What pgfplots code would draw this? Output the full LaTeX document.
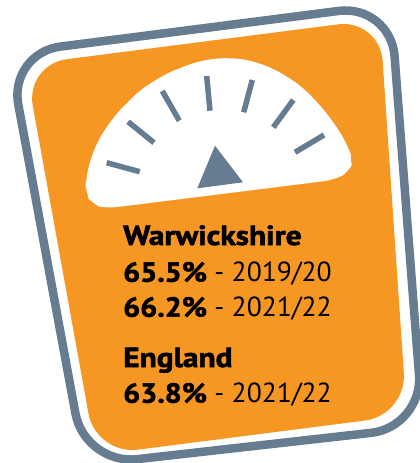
\documentclass[border=0pt]{standalone}
\usepackage{pgfplots}
\pgfplotsset{compat=1.18}
\usepackage{fontspec}
\setmainfont{PT Sans}
\newfontfamily\blk[FakeBold=2,FakeStretch=1.14]{PT Sans Bold}
\newfontfamily\blknum[FakeBold=2,FakeStretch=1.09]{PT Sans Bold}
\definecolor{slate}{HTML}{667C91}
\definecolor{scaleorange}{HTML}{F69723}
\newcommand{\lab}[3]{\node[anchor=base west,inner sep=0pt] at (axis cs:#1,#2) {\fontsize{27.6}{28}\selectfont #3};}
\begin{document}
\begin{tikzpicture}
\begin{axis}[
	width=420pt,height=463pt,scale only axis,
	hide axis,
	xmin=0,xmax=420,ymin=0,ymax=463,
	y dir=reverse
]
% outer border
\addplot[draw=slate,line width=8.5pt,rounded corners=52pt] coordinates {
(8.8,53.2) (390.6,4.3) (423,427) (85,465)
} --cycle;
% orange face
\addplot[draw=none,fill=scaleorange,rounded corners=42pt] coordinates {
(25.3,64.5) (379.8,19) (406.7,415.2) (96,455)
} --cycle;
% dial, starts mid way along the flat bottom edge
\addplot[draw=none,fill=white,rounded corners=10pt] coordinates {
(220,194.2) (106.7,208.3) (92,205) (85.5,192) (85.7,181.7) (90,160) (100,136.7)
(116.7,113.3) (140,90) (166.7,73.3) (196.7,61.7) (220,57.7) (246.7,59.3) (273.3,68.3)
(300,85) (320,105) (336.7,126.7) (348.3,146.7) (352.5,160) (350,172) (333.3,180)
} --cycle;
% ticks
\addplot[slate,line width=5.5pt] coordinates {(106.7,162.7) (139.7,171.7)};
\addplot[slate,line width=5.5pt] coordinates {(128,121.7) (154,142.7)};
\addplot[slate,line width=5.5pt] coordinates {(162.3,91) (179.3,120.7)};
\addplot[slate,line width=5.5pt] coordinates {(206.7,76) (210,110.7)};
\addplot[slate,line width=5.5pt] coordinates {(252.3,80) (243.7,112.3)};
\addplot[slate,line width=5.5pt] coordinates {(293.3,100) (273.3,127.3)};
\addplot[slate,line width=5.5pt] coordinates {(324,135) (295,152.3)};
% pointer
\addplot[draw=none,fill=slate] coordinates {(215,145.7) (243,182.3) (197.3,188.3)} --cycle;
\lab{123}{245}{{\blk Warwickshire}}
\lab{123}{281.7}{{\blknum 65.5\%} - 2019/20}
\lab{123}{316.7}{{\blknum 66.2\%} - 2021/22}
\lab{123}{367}{{\blk England}}
\lab{123}{402.7}{{\blknum 63.8\%} - 2021/22}
\end{axis}
\pgfresetboundingbox
\useasboundingbox (0,0) rectangle (420pt,463pt);
\end{tikzpicture}
\end{document}
